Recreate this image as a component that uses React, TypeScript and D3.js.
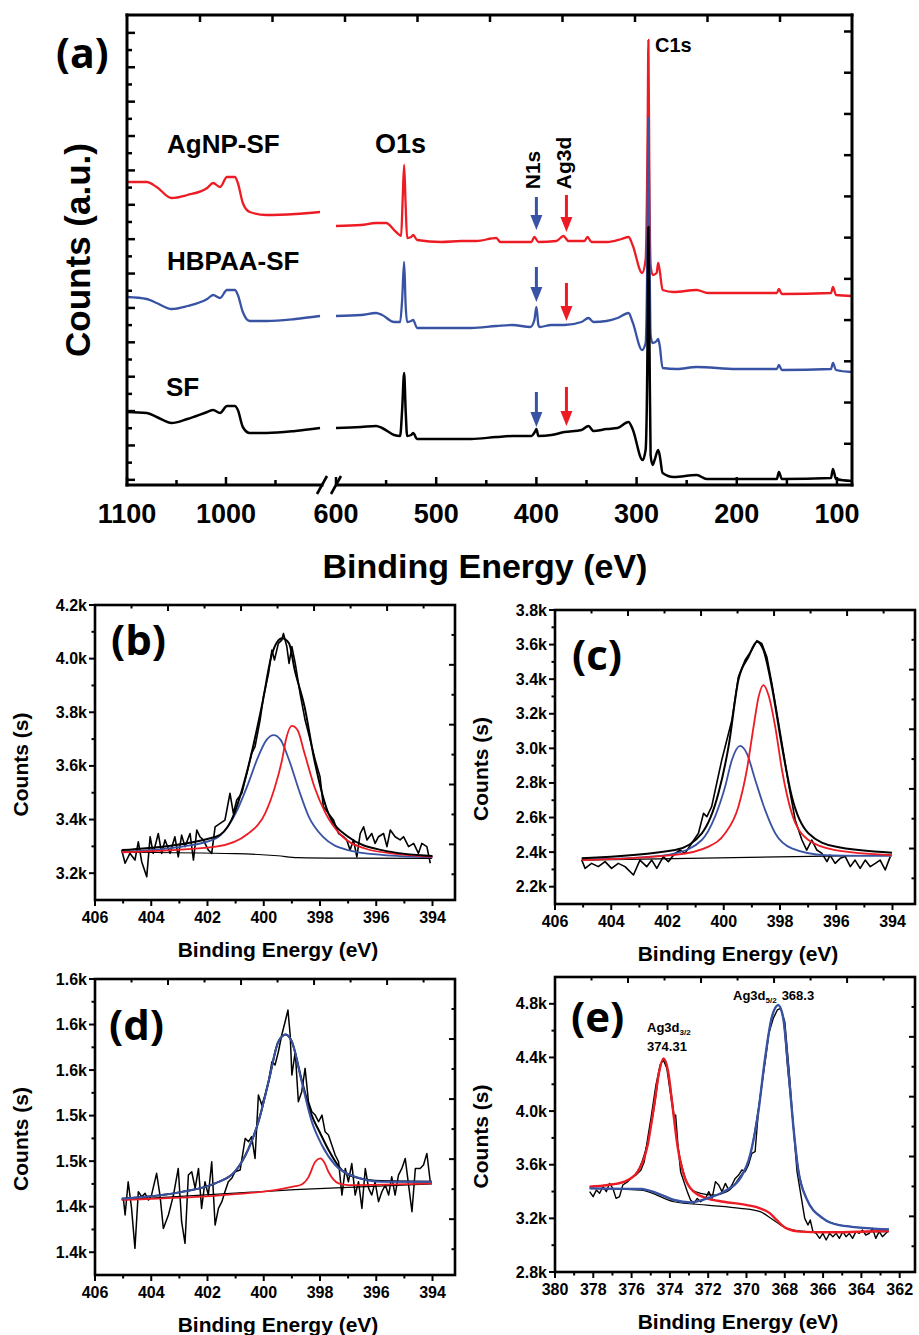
import React from "react";
import * as d3 from "d3";

type P = [number, number];

// ---------------- Panel (a): XPS survey, binding energy (eV) vs counts (a.u.)
const surveyRedLeft: P[] = [[1100,30.3],[1080,30.3],[1070,29.8],[1055,28.7],[1039,29.0],[1019,29.7],[1013,30.2],[1006,29.8],[999,30.8],[991,30.8],[988,30.2],[983,28.2],[976,27.3],[959,27.0],[930,27.1],[905,27.3]];
const surveyBlueLeft: P[] = [[1100,18.8],[1080,18.6],[1070,18.2],[1055,17.6],[1039,17.9],[1019,18.6],[1013,19.0],[1006,18.7],[999,19.5],[991,19.5],[988,19.0],[983,17.3],[976,16.4],[959,16.4],[930,16.6],[905,16.9]];
const surveyBlackLeft: P[] = [[1100,7.3],[1080,7.2],[1070,6.8],[1055,6.2],[1039,6.6],[1019,7.3],[1013,7.5],[1006,7.2],[999,7.9],[991,7.9],[988,7.5],[983,5.8],[976,5.2],[959,5.2],[930,5.4],[905,5.7]];

const surveyRedRight: P[] = [[600,25.9],[575,26.0],[560,26.2],[550,26.2],[540,25.3],[535,24.9],[533.5,28.5],[532,32.0],[530.5,28.0],[529,24.7],[525,24.8],[523,25.0],[519,24.5],[495,24.3],[475,24.4],[460,24.4],[440,24.7],[436,24.3],[420,24.3],[405,24.3],[402,24.8],[398,24.3],[380,24.4],[373,24.9],[368,24.4],[352,24.4],[349,24.8],[345,24.3],[329,24.3],[315,24.6],[308,24.8],[304,24.0],[294.5,21.2],[291,22.5],[289,35],[288.2,44.5],[287.2,30],[286,22],[284,21.0],[280,21.2],[278.5,22.2],[277,21.5],[274,19.5],[263,19.3],[240,19.5],[229,19.2],[160,19.2],[158,19.6],[155,19.1],[106,19.2],[104,19.8],[101,19.0],[85,18.9]];
const surveyBlueRight: P[] = [[600,16.9],[575,17.0],[560,17.2],[554,17.0],[542,16.3],[536,16.3],[534,18.5],[532,22.3],[530.5,18.0],[529,16.3],[525,16.4],[523,16.5],[519,15.7],[490,15.7],[465,15.7],[440,15.9],[424,16.0],[406,15.8],[402,16.5],[400,17.8],[398,16.0],[397,15.8],[385,16.0],[372,16.0],[355,16.3],[348,16.7],[343,16.3],[330,16.4],[319,16.7],[308,17.2],[304,16.3],[294.5,13.5],[291,14.2],[289,26],[288.2,36.7],[287.2,25],[286,15],[284,14.2],[280,14.4],[278.5,14.6],[277,14.0],[274,11.7],[260,11.6],[240,11.8],[200,11.6],[160,11.6],[158,12.0],[155,11.5],[106,11.6],[104,12.2],[101,11.5],[85,11.3]];
const surveyBlackRight: P[] = [[600,5.7],[575,5.8],[560,5.9],[554,5.7],[542,5.0],[536,4.9],[534,7.5],[532,11.2],[530.5,7.5],[529,4.9],[525,5.0],[523,5.2],[519,4.6],[490,4.6],[465,4.6],[440,4.8],[424,4.9],[405,4.9],[401,5.4],[400,5.6],[398,4.9],[385,5.0],[372,5.3],[355,5.5],[348,5.9],[343,5.4],[330,5.6],[319,5.7],[308,6.3],[304,5.6],[294,2.5],[291,3.5],[289,15],[288.2,25.8],[287.2,15],[286,3.0],[284,2.0],[282,2.5],[278.5,3.5],[277,3.0],[274,1.2],[263,0.8],[240,1.0],[230,0.6],[160,0.6],[158,1.3],[155,0.6],[106,0.7],[104,1.6],[101,0.6],[85,0.4]];

const surveyMajorLeft = [1100, 1000];
const surveyMinorLeft = [1050, 950];
const surveyMajorRight = [600, 500, 400, 300, 200, 100];
const surveyMinorRight = [550, 450, 350, 250, 150];

// arrows: [top, tip] in counts (a.u.)
const n1sArrowE = 400;
const n1sArrows: P[] = [[28.8, 25.5], [21.8, 18.3], [9.3, 5.8]];
const ag3dArrowE = 370;
const ag3dArrows: P[] = [[29.0, 25.3], [20.2, 16.4], [9.8, 5.9]];

// ---------------- Panel (b)
const bRaw: P[] = [[405.05,3286],[404.93,3237],[404.76,3274],[404.58,3249],[404.46,3317],[404.34,3243],[404.16,3187],[404.04,3336],[403.93,3274],[403.75,3348],[403.63,3274],[403.51,3324],[403.33,3274],[403.16,3336],[403.04,3261],[402.92,3342],[402.80,3299],[402.62,3348],[402.50,3249],[402.38,3361],[402.27,3336],[402.15,3324],[401.97,3286],[401.85,3274],[401.73,3373],[401.55,3386],[401.38,3398],[401.20,3498],[401.08,3423],[400.96,3473],[400.78,3498],[400.60,3572],[400.43,3647],[400.31,3672],[400.13,3771],[400.01,3858],[399.83,3945],[399.71,4032],[399.62,3995],[399.48,4057],[399.36,4069],[399.30,4094],[399.18,4045],[399.10,3982],[399.00,4045],[398.88,3982],[398.71,3871],[398.53,3771],[398.35,3697],[398.17,3622],[398.00,3560],[397.88,3448],[397.70,3423],[397.52,3398],[397.34,3348],[397.16,3336],[397.05,3324],[396.93,3286],[396.81,3324],[396.69,3261],[396.57,3348],[396.45,3373],[396.33,3324],[396.16,3348],[396.04,3311],[395.92,3336],[395.74,3348],[395.62,3299],[395.50,3361],[395.33,3336],[395.15,3324],[395.03,3336],[394.85,3299],[394.67,3311],[394.50,3274],[394.38,3311],[394.20,3299],[394.08,3237]];
const bBg: P[] = [[405.05,3278],[401.0,3273],[399.5,3265],[398.8,3258],[397.0,3256],[394.02,3255]];
const bBlue: P[] = [[405.05,3280],[402.9,3299],[401.7,3330],[401.0,3423],[400.55,3535],[400.2,3634],[399.9,3697],[399.65,3715],[399.4,3697],[399.1,3622],[398.75,3510],[398.4,3411],[397.9,3336],[397.0,3286],[395.8,3268],[394.0,3259]];
const bRed: P[] = [[405.05,3278],[401.7,3299],[400.55,3348],[399.95,3423],[399.6,3522],[399.35,3622],[399.2,3703],[399.0,3749],[398.8,3734],[398.55,3647],[398.2,3522],[397.8,3423],[397.2,3336],[396.4,3292],[395.2,3271],[394.0,3261]];
const bEnv: P[] = [[405.05,3286],[401.7,3336],[401.15,3398],[400.55,3597],[400.05,3833],[399.7,4020],[399.35,4076],[399.1,4057],[398.9,3958],[398.55,3821],[398.2,3622],[397.7,3423],[397.0,3336],[395.8,3286],[394.0,3264]];

// ---------------- Panel (c)
const cRaw: P[] = [[405.05,2354],[404.93,2306],[404.70,2335],[404.46,2316],[404.22,2345],[403.99,2306],[403.75,2335],[403.51,2316],[403.21,2268],[402.98,2354],[402.74,2316],[402.56,2354],[402.38,2306],[402.15,2374],[401.97,2345],[401.73,2393],[401.55,2412],[401.38,2393],[401.14,2451],[400.90,2509],[400.72,2624],[400.60,2605],[400.43,2663],[400.25,2798],[400.07,2933],[399.89,3048],[399.71,3164],[399.48,3414],[399.24,3511],[399.00,3569],[398.82,3623],[398.65,3607],[398.47,3530],[398.29,3376],[398.11,3203],[397.93,3029],[397.70,2798],[397.46,2586],[397.22,2470],[397.05,2412],[396.87,2470],[396.69,2412],[396.51,2393],[396.33,2345],[396.22,2383],[396.04,2335],[395.86,2364],[395.68,2374],[395.50,2316],[395.33,2354],[395.15,2306],[394.97,2354],[394.79,2316],[394.61,2335],[394.44,2354],[394.26,2297],[394.08,2374]];
const cBg: P[] = [[405.05,2354],[394.02,2383]];
const cBlue: P[] = [[405.05,2358],[402.92,2370],[401.73,2393],[400.78,2470],[400.31,2605],[399.95,2779],[399.71,2933],[399.42,3014],[399.18,2971],[398.88,2817],[398.53,2644],[398.17,2509],[397.58,2422],[396.39,2383],[394.02,2378]];
const cRed: P[] = [[405.05,2354],[401.73,2384],[400.54,2432],[399.95,2509],[399.48,2663],[399.18,2875],[398.94,3125],[398.76,3299],[398.59,3366],[398.41,3309],[398.17,3125],[397.93,2875],[397.58,2624],[396.99,2470],[396.04,2412],[394.02,2383]];
const cEnv: P[] = [[405.05,2364],[401.73,2412],[400.78,2509],[400.19,2740],[399.83,3010],[399.48,3395],[399.12,3530],[398.82,3617],[398.59,3569],[398.29,3357],[397.93,3010],[397.58,2721],[396.99,2509],[396.04,2432],[394.02,2397]];

// ---------------- Panel (d)
const dRaw: P[] = [[404.99,1447.3],[404.93,1432.7],[404.82,1461.9],[404.70,1438.5],[404.58,1403.4],[404.46,1453.1],[404.34,1448.8],[404.22,1451.7],[404.10,1445.8],[403.99,1450.2],[403.81,1469.3],[403.69,1450.2],[403.57,1420.9],[403.39,1432.7],[403.21,1450.2],[403.04,1473.6],[402.92,1426.8],[402.80,1407.8],[402.68,1467.8],[402.56,1470.7],[402.44,1456.1],[402.32,1473.6],[402.21,1438.5],[402.09,1461.9],[401.97,1450.2],[401.85,1479.5],[401.73,1423.9],[401.61,1438.5],[401.49,1444.4],[401.38,1453.1],[401.26,1461.9],[401.14,1464.9],[401.02,1470.7],[400.84,1472.2],[400.66,1500.0],[400.54,1497.1],[400.43,1501.5],[400.31,1482.4],[400.19,1538.1],[400.07,1529.3],[399.95,1538.1],[399.83,1549.8],[399.71,1567.3],[399.60,1564.4],[399.48,1576.1],[399.36,1590.8],[399.24,1602.5],[399.14,1612.7],[399.06,1590.8],[399.00,1555.6],[398.88,1576.1],[398.77,1532.2],[398.65,1541.0],[398.53,1561.5],[398.41,1532.2],[398.29,1523.4],[398.17,1520.5],[398.05,1514.6],[397.93,1520.5],[397.82,1505.9],[397.70,1503.0],[397.58,1494.1],[397.46,1485.4],[397.34,1479.5],[397.22,1450.2],[397.10,1473.6],[396.99,1461.9],[396.87,1478.0],[396.75,1450.2],[396.63,1461.9],[396.51,1438.5],[396.39,1473.6],[396.27,1456.1],[396.16,1450.2],[396.04,1461.9],[395.92,1444.4],[395.80,1453.1],[395.68,1459.0],[395.56,1450.2],[395.45,1466.3],[395.33,1450.2],[395.21,1467.8],[395.09,1473.6],[394.97,1482.4],[394.85,1459.0],[394.73,1435.6],[394.61,1473.6],[394.44,1473.6],[394.32,1476.6],[394.20,1486.8],[394.08,1461.9]];
const dBg: P[] = [[405.05,1446],[398.9,1455],[394.02,1460]];
const dRed: P[] = [[405.05,1446],[401.0,1451],[399.5,1455],[398.88,1458],[398.65,1459.5],[398.41,1466],[398.17,1479.5],[397.99,1482.4],[397.85,1479],[397.70,1470.7],[397.34,1460.5],[396.99,1459],[394.02,1460.5]];
const dBlue: P[] = [[405.05,1447],[402.92,1453],[401.73,1460.5],[401.02,1471],[400.54,1491],[400.19,1514.6],[399.83,1549.8],[399.48,1585],[399.22,1591.3],[399.0,1585],[398.65,1549.8],[398.29,1514.6],[397.93,1494],[397.46,1476.6],[396.75,1466.3],[395.80,1462],[394.02,1462]];
const dEnv: P[] = [[405.05,1447],[402.92,1453],[401.73,1460.5],[401.02,1471],[400.54,1491],[400.19,1514.6],[399.83,1549.8],[399.48,1585],[399.22,1591.3],[399.0,1585],[398.65,1551],[398.29,1520],[398.0,1505],[397.70,1490],[397.22,1472],[396.75,1466],[395.80,1462.5],[394.02,1462]];

// ---------------- Panel (e): Ag3d
const eRaw: P[] = [[378.19,3399],[378.01,3362],[377.84,3411],[377.67,3387],[377.50,3436],[377.32,3399],[377.15,3461],[376.98,3424],[376.81,3349],[376.63,3362],[376.46,3449],[376.20,3474],[375.94,3511],[375.77,3523],[375.51,3561],[375.34,3623],[375.16,3797],[374.99,3946],[374.73,4194],[374.51,4344],[374.34,4381],[374.16,4319],[373.96,4120],[373.78,3946],[373.70,3971],[373.58,3747],[373.44,3548],[373.27,3474],[373.09,3399],[372.92,3337],[372.75,3312],[372.57,3349],[372.40,3324],[372.14,3349],[371.97,3399],[371.80,3349],[371.62,3474],[371.45,3449],[371.28,3399],[371.10,3461],[370.93,3411],[370.76,3449],[370.59,3498],[370.41,3523],[370.24,3561],[370.07,3548],[369.90,3598],[369.72,3685],[369.55,3697],[369.38,3996],[369.12,4294],[368.86,4567],[368.60,4692],[368.39,4754],[368.22,4766],[368.00,4667],[367.77,4294],[367.56,3896],[367.36,3548],[367.13,3349],[366.96,3200],[366.79,3150],[366.67,3188],[366.53,3101],[366.36,3088],[366.18,3051],[366.01,3088],[365.84,3039],[365.66,3088],[365.49,3063],[365.32,3088],[365.15,3051],[364.97,3101],[364.80,3063],[364.63,3088],[364.46,3051],[364.28,3101],[364.11,3088],[363.94,3113],[363.77,3076],[363.59,3088],[363.42,3126],[363.25,3051],[363.07,3101],[362.90,3063],[362.64,3101]];
const eBg: P[] = [[378.19,3424],[375.51,3411],[373.78,3324],[372.06,3299],[370.33,3275],[369.29,3250],[368.6,3188],[367.91,3125],[366.87,3101],[362.56,3101]];
const eRed: P[] = [[378.19,3436],[377.24,3449],[376.37,3474],[375.68,3548],[375.16,3747],[374.82,4045],[374.56,4294],[374.33,4393],[374.09,4294],[373.87,4045],[373.61,3747],[373.27,3523],[372.75,3399],[372.06,3349],[371.19,3324],[369.98,3299],[369.29,3275],[368.77,3237],[368.43,3188],[367.91,3125],[367.22,3101],[366.0,3096],[362.56,3106]];
const eBlue: P[] = [[378.19,3424],[375.51,3419],[374.65,3387],[373.78,3337],[372.92,3319],[372.06,3349],[371.19,3399],[370.33,3498],[369.81,3672],[369.38,3996],[369.03,4393],[368.69,4692],[368.34,4791],[368.08,4692],[367.82,4319],[367.56,3896],[367.31,3573],[366.87,3349],[366.01,3200],[365.15,3150],[362.56,3118]];
const eEnv: P[] = [[378.19,3436],[376.4,3470],[375.7,3548],[375.2,3747],[374.8,4045],[374.55,4294],[374.33,4393],[374.1,4294],[373.85,4045],[373.6,3747],[373.3,3550],[372.9,3420],[372.4,3387],[371.7,3374],[371.0,3400],[370.4,3498],[369.8,3672],[369.4,3996],[369.0,4393],[368.7,4692],[368.34,4791],[368.08,4692],[367.85,4319],[367.56,3896],[367.3,3573],[366.87,3349],[366.0,3200],[365.15,3150],[362.56,3118]];

// ---------------- Tick values
const nMajor = [406, 404, 402, 400, 398, 396, 394];
const nMinor = [405, 403, 401, 399, 397, 395];
const agMajor = [380, 378, 376, 374, 372, 370, 368, 366, 364, 362];
const agMinor = [379, 377, 375, 373, 371, 369, 367, 365, 363];
const bYMajor = [3200, 3400, 3600, 3800, 4000, 4200];
const bYMinor = [3300, 3500, 3700, 3900, 4100];
const cYMajor = [2200, 2400, 2600, 2800, 3000, 3200, 3400, 3600, 3800];
const cYMinor = [2300, 2500, 2700, 2900, 3100, 3300, 3500, 3700];
const dYMajor = [1400, 1440, 1480, 1520, 1560, 1600, 1640];
const dYMinor = [1420, 1460, 1500, 1540, 1580, 1620];
const eYMajor = [2800, 3200, 3600, 4000, 4400, 4800];
const eYMinor = [3000, 3400, 3800, 4200, 4600];

const FONT = "'Liberation Sans', Arial, Helvetica, sans-serif";
const TAGFONT = "'Open Sans', 'Noto Sans', sans-serif";
const RED = "#ed1c24";
const BLUE = "#3953a4";
const kFmt = (v: number) => d3.format(".1f")(v / 1000) + "k";

function Arrow({ x, yTop, yTip, color }: { x: number; yTop: number; yTip: number; color: string }) {
  const hl = 15, hw = 6;
  return (
    <g>
      <line x1={x} x2={x} y1={yTop} y2={yTip - hl + 1} stroke={color} strokeWidth={3} />
      <path d={`M${x - hw},${yTip - hl} L${x + hw},${yTip - hl} L${x},${yTip} Z`} fill={color} />
    </g>
  );
}

function PanelA() {
  const X0 = 127, X1 = 852, Y0 = 15, Y1 = 485;
  const xL = d3.scaleLinear().domain([1100, 903]).range([127, 322]);
  const xR = d3.scaleLinear().domain([600, 85]).range([336, 852]);
  const y = d3.scaleLinear().domain([0, 47]).range([Y1, Y0]);
  const yTick = d3.scaleLinear().domain([-0.15, 13.52]).range([Y1, Y0]);
  const yTickR = d3.scaleLinear().domain([0, 11.4]).range([Y1, Y0]);
  const xTop = d3.scaleLinear().domain([0, 10]).range([127.5, 852.5]);
  const lL = d3.line<P>().x((d) => xL(d[0])).y((d) => y(d[1])).curve(d3.curveMonotoneX);
  const lR = d3.line<P>().x((d) => xR(d[0])).y((d) => y(d[1])).curve(d3.curveMonotoneX);
  const spectra = [
    { left: surveyRedLeft, right: surveyRedRight, color: RED, w: 2.3 },
    { left: surveyBlueLeft, right: surveyBlueRight, color: BLUE, w: 2.3 },
    { left: surveyBlackLeft, right: surveyBlackRight, color: "#000", w: 2.5 },
  ];
  const majorsL = surveyMajorLeft.map((v) => xL(v));
  const minorsL = surveyMinorLeft.map((v) => xL(v));
  const majorsR = surveyMajorRight.map((v) => xR(v));
  const minorsR = surveyMinorRight.map((v) => xR(v));
  return (
    <g>
      {spectra.map((s, i) => (
        <g key={i} fill="none" stroke={s.color} strokeWidth={s.w} strokeLinejoin="round">
          <path d={lL(s.left) || ""} />
          <path d={lR(s.right) || ""} />
        </g>
      ))}
      <g stroke="#000" strokeWidth={3} fill="none" strokeLinecap="square">
        <line x1={X0} x2={X0} y1={Y0} y2={Y1} />
        <line x1={X0} x2={X1} y1={Y0} y2={Y0} />
        <line x1={X1} x2={X1} y1={Y0} y2={Y1} />
        <line x1={X0} x2={322} y1={Y1} y2={Y1} />
        <line x1={337} x2={X1} y1={Y1} y2={Y1} />
      </g>
      <g stroke="#000" strokeWidth={2.6}>
        <line x1={317} y1={494} x2={327} y2={476} />
        <line x1={331} y1={494} x2={341} y2={476} />
      </g>
      <g stroke="#000" strokeWidth={2.5}>
        {[...majorsL, ...majorsR].map((x, i) => (
          <line key={"bm" + i} x1={x} x2={x} y1={Y1} y2={Y1 - 8} />
        ))}
        {[...minorsL, ...minorsR].map((x, i) => (
          <line key={"bn" + i} x1={x} x2={x} y1={Y1} y2={Y1 - 5} />
        ))}
        {d3.range(0, 14).map((k) => (
          <line key={"lm" + k} x1={X0} x2={X0 + 8} y1={yTick(k)} y2={yTick(k)} />
        ))}
        {d3.range(0.5, 13.5, 1).map((k) => (
          <line key={"ln" + k} x1={X0} x2={X0 + 5} y1={yTick(k)} y2={yTick(k)} />
        ))}
        {d3.range(1, 12).map((k) => (
          <line key={"rm" + k} x1={X1} x2={X1 - 8} y1={yTickR(k)} y2={yTickR(k)} />
        ))}
        {d3.range(1, 10).map((k) => (
          <line key={"tm" + k} x1={xTop(k)} x2={xTop(k)} y1={Y0} y2={Y0 + 7} />
        ))}
      </g>
      <g fontFamily={FONT} fontWeight="bold" fontSize={27} textAnchor="middle">
        {surveyMajorLeft.map((v) => (
          <text key={v} x={xL(v)} y={523}>{v}</text>
        ))}
        {surveyMajorRight.map((v) => (
          <text key={v} x={xR(v)} y={523}>{v}</text>
        ))}
      </g>
      <text x={485} y={578} fontFamily={FONT} fontWeight="bold" fontSize={34} textAnchor="middle">
        Binding Energy (eV)
      </text>
      <text transform="translate(90,250) rotate(-90)" fontFamily={FONT} fontWeight="bold" fontSize={35} textAnchor="middle">
        Counts (a.u.)
      </text>
      <text x={56} y={68} fontFamily={TAGFONT} fontWeight={700} fontSize={41}>(a)</text>
      <g fontFamily={FONT} fontWeight="bold">
        <text x={167} y={153} fontSize={26}>AgNP-SF</text>
        <text x={167} y={270} fontSize={26}>HBPAA-SF</text>
        <text x={166} y={396} fontSize={26}>SF</text>
        <text x={375} y={153} fontSize={27}>O1s</text>
        <text x={655} y={52} fontSize={20}>C1s</text>
        <text transform="translate(540,170) rotate(-90)" fontSize={21} textAnchor="middle">N1s</text>
        <text transform="translate(571,163) rotate(-90)" fontSize={21} textAnchor="middle">Ag3d</text>
      </g>
      {n1sArrows.map((a, i) => (
        <Arrow key={"n" + i} x={xR(n1sArrowE)} yTop={y(a[0])} yTip={y(a[1])} color={BLUE} />
      ))}
      {ag3dArrows.map((a, i) => (
        <Arrow key={"a" + i} x={xR(ag3dArrowE)} yTop={y(a[0])} yTip={y(a[1])} color={RED} />
      ))}
    </g>
  );
}

type Series = { data: P[]; color: string; width: number; smooth?: boolean };

function SmallPanel(props: {
  x0: number; x1: number; y0: number; y1: number;
  xDomain: [number, number]; yDomain: [number, number];
  xMajor: number[]; xMinor: number[]; yMajor: number[]; yMinor: number[];
  series: Series[]; tag: string; tagX: number; tagY: number;
  children?: React.ReactNode;
}) {
  const { x0, x1, y0, y1 } = props;
  const x = d3.scaleLinear().domain(props.xDomain).range([x0, x1]);
  const y = d3.scaleLinear().domain(props.yDomain).range([y1, y0]);
  const top = d3.scaleLinear().domain([0, 4.93]).range([x0, x1]);
  const right = d3.scaleLinear().domain([0, 4.93]).range([y0, y1]);
  const midX = (x0 + x1) / 2;
  const midY = (y0 + y1) / 2;
  return (
    <g>
      {props.series.map((s, i) => {
        const gen = d3.line<P>().x((d) => x(d[0])).y((d) => y(d[1]));
        if (s.smooth) gen.curve(d3.curveMonotoneX);
        return <path key={i} d={gen(s.data) || ""} fill="none" stroke={s.color} strokeWidth={s.width} strokeLinejoin="round" />;
      })}
      <rect x={x0} y={y0} width={x1 - x0} height={y1 - y0} fill="none" stroke="#000" strokeWidth={2.6} />
      <g stroke="#000" strokeWidth={2}>
        {props.xMajor.map((v) => <line key={"xm" + v} x1={x(v)} x2={x(v)} y1={y1} y2={y1 + 6} />)}
        {props.xMinor.map((v) => <line key={"xn" + v} x1={x(v)} x2={x(v)} y1={y1} y2={y1 + 3.5} />)}
        {props.yMajor.map((v) => <line key={"ym" + v} x1={x0} x2={x0 - 6} y1={y(v)} y2={y(v)} />)}
        {props.yMinor.map((v) => <line key={"yn" + v} x1={x0} x2={x0 - 3.5} y1={y(v)} y2={y(v)} />)}
        {[1, 2, 3, 4].map((k) => <line key={"tm" + k} x1={top(k)} x2={top(k)} y1={y0} y2={y0 + 6} />)}
        {[0.5, 1.5, 2.5, 3.5, 4.5].map((k) => <line key={"tn" + k} x1={top(k)} x2={top(k)} y1={y0} y2={y0 + 3.5} />)}
        {[1, 2, 3, 4].map((k) => <line key={"rm" + k} x1={x1} x2={x1 - 6} y1={right(k)} y2={right(k)} />)}
        {[0.5, 1.5, 2.5, 3.5, 4.5].map((k) => <line key={"rn" + k} x1={x1} x2={x1 - 3.5} y1={right(k)} y2={right(k)} />)}
      </g>
      <g fontFamily={FONT} fontWeight="bold" fontSize={16}>
        {props.xMajor.map((v) => (
          <text key={"xl" + v} x={x(v)} y={y1 + 23} textAnchor="middle">{v}</text>
        ))}
        {props.yMajor.map((v) => (
          <text key={"yl" + v} x={x0 - 8} y={y(v) + 5.5} textAnchor="end">{kFmt(v)}</text>
        ))}
      </g>
      <text x={midX + 3} y={y1 + 57} fontFamily={FONT} fontWeight="bold" fontSize={21} textAnchor="middle">
        Binding Energy (eV)
      </text>
      <text transform={`translate(${x0 - 67},${midY + 12}) rotate(-90)`} fontFamily={FONT} fontWeight="bold" fontSize={21} textAnchor="middle">
        Counts (s)
      </text>
      <text x={props.tagX} y={props.tagY} fontFamily={TAGFONT} fontWeight={700} fontSize={42}>{props.tag}</text>
      {props.children}
    </g>
  );
}

export default function App() {
  return (
    <svg width={919} height={1335} viewBox="0 0 919 1335" style={{ position: "absolute", left: 0, top: 0, background: "#fff" }}>
      <rect x={0} y={0} width={919} height={1335} fill="#fff" />
      <PanelA />
      <SmallPanel
        x0={95} x1={455} y0={605} y1={900}
        xDomain={[406, 393.2]} yDomain={[3100, 4200]}
        xMajor={nMajor} xMinor={nMinor} yMajor={bYMajor} yMinor={bYMinor}
        tag="(b)" tagX={111} tagY={655}
        series={[
          { data: bRaw, color: "#000", width: 1.6 },
          { data: bBg, color: "#000", width: 1.2, smooth: true },
          { data: bBlue, color: BLUE, width: 1.8, smooth: true },
          { data: bRed, color: RED, width: 1.8, smooth: true },
          { data: bEnv, color: "#000", width: 2, smooth: true },
        ]}
      />
      <SmallPanel
        x0={555} x1={915} y0={610} y1={904}
        xDomain={[406, 393.2]} yDomain={[2100, 3800]}
        xMajor={nMajor} xMinor={nMinor} yMajor={cYMajor} yMinor={cYMinor}
        tag="(c)" tagX={572} tagY={670}
        series={[
          { data: cRaw, color: "#000", width: 1.6 },
          { data: cBg, color: "#000", width: 1.2 },
          { data: cBlue, color: BLUE, width: 1.8, smooth: true },
          { data: cRed, color: RED, width: 1.8, smooth: true },
          { data: cEnv, color: "#000", width: 2, smooth: true },
        ]}
      />
      <SmallPanel
        x0={95} x1={455} y0={979} y1={1275}
        xDomain={[406, 393.2]} yDomain={[1380, 1640]}
        xMajor={nMajor} xMinor={nMinor} yMajor={dYMajor} yMinor={dYMinor}
        tag="(d)" tagX={109} tagY={1040}
        series={[
          { data: dRaw, color: "#000", width: 1.5 },
          { data: dBg, color: "#000", width: 1.2 },
          { data: dEnv, color: "#000", width: 2, smooth: true },
          { data: dRed, color: RED, width: 1.8, smooth: true },
          { data: dBlue, color: BLUE, width: 2, smooth: true },
        ]}
      />
      <SmallPanel
        x0={555} x1={915} y0={977} y1={1272}
        xDomain={[380, 361.2]} yDomain={[2800, 5000]}
        xMajor={agMajor} xMinor={agMinor} yMajor={eYMajor} yMinor={eYMinor}
        tag="(e)" tagX={571} tagY={1032}
        series={[
          { data: eRaw, color: "#000", width: 1.4 },
          { data: eBg, color: "#000", width: 1.2, smooth: true },
          { data: eEnv, color: "#000", width: 1.3, smooth: true },
          { data: eRed, color: RED, width: 2.4, smooth: true },
          { data: eBlue, color: BLUE, width: 2.4, smooth: true },
        ]}
      >
        <g fontFamily={FONT} fontWeight="bold" fontSize={13} fill="#000">
          <text x={733} y={1000}>
            Ag3d<tspan fontSize={8} dy={3}>5/2</tspan>
            <tspan dy={-3} dx={5}>368.3</tspan>
          </text>
          <text x={647} y={1032}>
            Ag3d<tspan fontSize={8} dy={3}>3/2</tspan>
          </text>
          <text x={667} y={1051} textAnchor="middle">374.31</text>
        </g>
      </SmallPanel>
    </svg>
  );
}
